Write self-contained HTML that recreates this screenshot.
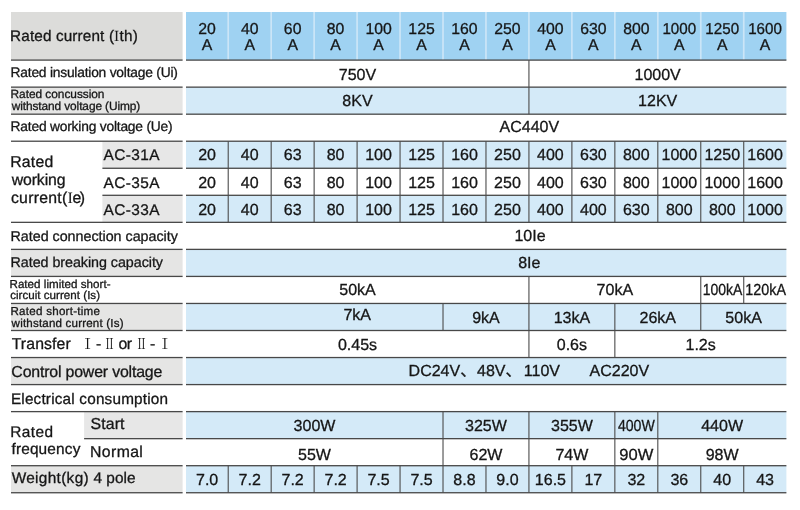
<!DOCTYPE html>
<html lang="en">
<head>
<meta charset="utf-8">
<title>Technical parameters</title>
<style>
html,body{margin:0;padding:0;background:#fff;}
body{width:800px;height:510px;overflow:hidden;}
svg{display:block;}
svg text{font-family:"Liberation Sans","Noto Sans CJK SC",sans-serif;fill:#161616;stroke:#161616;stroke-width:0.3px;text-rendering:geometricPrecision;}
svg text.ro{stroke:none;font-family:"Liberation Serif","Noto Serif CJK SC",serif;}
</style>
</head>
<body>
<svg width="800" height="510" viewBox="0 0 800 510">
<rect x="0" y="0" width="800" height="510" fill="#ffffff"/>
<rect x="11.00" y="12.00" width="171.60" height="48.10" fill="#dcdcda"/>
<rect x="186.00" y="12.00" width="600.40" height="48.10" fill="#9fd2f2"/>
<rect x="11.00" y="87.14" width="171.60" height="27.04" fill="#e5e5e4"/>
<rect x="186.00" y="87.14" width="600.40" height="27.04" fill="#d4eaf8"/>
<rect x="11.00" y="249.38" width="171.60" height="27.04" fill="#e5e5e4"/>
<rect x="186.00" y="249.38" width="600.40" height="27.04" fill="#d4eaf8"/>
<rect x="11.00" y="303.46" width="171.60" height="27.04" fill="#e5e5e4"/>
<rect x="186.00" y="303.46" width="600.40" height="27.04" fill="#d4eaf8"/>
<rect x="11.00" y="357.54" width="171.60" height="27.04" fill="#e5e5e4"/>
<rect x="186.00" y="357.54" width="600.40" height="27.04" fill="#d4eaf8"/>
<rect x="11.00" y="465.70" width="171.60" height="27.04" fill="#e5e5e4"/>
<rect x="186.00" y="465.70" width="600.40" height="27.04" fill="#d4eaf8"/>
<rect x="102.40" y="141.22" width="80.20" height="27.04" fill="#e7e7e7"/>
<rect x="186.00" y="141.22" width="600.40" height="27.04" fill="#d4eaf8"/>
<rect x="102.40" y="195.30" width="80.20" height="27.04" fill="#e7e7e7"/>
<rect x="186.00" y="195.30" width="600.40" height="27.04" fill="#d4eaf8"/>
<rect x="84.10" y="411.62" width="98.50" height="27.04" fill="#e7e7e7"/>
<rect x="186.00" y="411.62" width="600.40" height="27.04" fill="#d4eaf8"/>
<rect x="227.36" y="12.00" width="1.70" height="48.10" fill="#cbe5f7"/>
<rect x="270.32" y="12.00" width="1.70" height="48.10" fill="#cbe5f7"/>
<rect x="313.28" y="12.00" width="1.70" height="48.10" fill="#cbe5f7"/>
<rect x="356.24" y="12.00" width="1.70" height="48.10" fill="#cbe5f7"/>
<rect x="399.20" y="12.00" width="1.70" height="48.10" fill="#cbe5f7"/>
<rect x="442.16" y="12.00" width="1.70" height="48.10" fill="#cbe5f7"/>
<rect x="485.12" y="12.00" width="1.70" height="48.10" fill="#cbe5f7"/>
<rect x="528.08" y="12.00" width="1.70" height="48.10" fill="#cbe5f7"/>
<rect x="571.04" y="12.00" width="1.70" height="48.10" fill="#cbe5f7"/>
<rect x="614.00" y="12.00" width="1.70" height="48.10" fill="#cbe5f7"/>
<rect x="656.96" y="12.00" width="1.70" height="48.10" fill="#cbe5f7"/>
<rect x="699.92" y="12.00" width="1.70" height="48.10" fill="#cbe5f7"/>
<rect x="742.88" y="12.00" width="1.70" height="48.10" fill="#cbe5f7"/>
<rect x="186.00" y="59.45" width="600.40" height="1.30" fill="#484848"/>
<rect x="11.00" y="59.45" width="171.60" height="1.30" fill="#484848"/>
<rect x="186.00" y="86.49" width="600.40" height="1.30" fill="#484848"/>
<rect x="11.00" y="86.49" width="171.60" height="1.30" fill="#484848"/>
<rect x="186.00" y="113.53" width="600.40" height="1.30" fill="#484848"/>
<rect x="11.00" y="113.53" width="171.60" height="1.30" fill="#484848"/>
<rect x="186.00" y="140.57" width="600.40" height="1.30" fill="#484848"/>
<rect x="11.00" y="140.57" width="171.60" height="1.30" fill="#484848"/>
<rect x="186.00" y="167.61" width="600.40" height="1.30" fill="#484848"/>
<rect x="102.40" y="167.61" width="80.20" height="1.30" fill="#484848"/>
<rect x="186.00" y="194.65" width="600.40" height="1.30" fill="#484848"/>
<rect x="102.40" y="194.65" width="80.20" height="1.30" fill="#484848"/>
<rect x="186.00" y="221.69" width="600.40" height="1.30" fill="#484848"/>
<rect x="11.00" y="221.69" width="171.60" height="1.30" fill="#484848"/>
<rect x="186.00" y="248.73" width="600.40" height="1.30" fill="#484848"/>
<rect x="11.00" y="248.73" width="171.60" height="1.30" fill="#484848"/>
<rect x="186.00" y="275.77" width="600.40" height="1.30" fill="#484848"/>
<rect x="11.00" y="275.77" width="171.60" height="1.30" fill="#484848"/>
<rect x="186.00" y="302.81" width="600.40" height="1.30" fill="#484848"/>
<rect x="11.00" y="302.81" width="171.60" height="1.30" fill="#484848"/>
<rect x="186.00" y="329.85" width="600.40" height="1.30" fill="#484848"/>
<rect x="11.00" y="329.85" width="171.60" height="1.30" fill="#484848"/>
<rect x="186.00" y="356.89" width="600.40" height="1.30" fill="#484848"/>
<rect x="11.00" y="356.89" width="171.60" height="1.30" fill="#484848"/>
<rect x="186.00" y="383.93" width="600.40" height="1.30" fill="#484848"/>
<rect x="11.00" y="383.93" width="171.60" height="1.30" fill="#484848"/>
<rect x="186.00" y="410.97" width="600.40" height="1.30" fill="#484848"/>
<rect x="11.00" y="410.97" width="171.60" height="1.30" fill="#484848"/>
<rect x="186.00" y="438.01" width="600.40" height="1.30" fill="#484848"/>
<rect x="84.10" y="438.01" width="98.50" height="1.30" fill="#484848"/>
<rect x="186.00" y="465.05" width="600.40" height="1.30" fill="#484848"/>
<rect x="11.00" y="465.05" width="171.60" height="1.30" fill="#484848"/>
<rect x="186.00" y="492.09" width="600.40" height="1.30" fill="#484848"/>
<rect x="11.00" y="492.09" width="171.60" height="1.30" fill="#484848"/>
<rect x="528.38" y="60.10" width="1.10" height="54.08" fill="#4c4c4c"/>
<rect x="227.66" y="141.22" width="1.10" height="81.12" fill="#4c4c4c"/>
<rect x="270.62" y="141.22" width="1.10" height="81.12" fill="#4c4c4c"/>
<rect x="313.58" y="141.22" width="1.10" height="81.12" fill="#4c4c4c"/>
<rect x="356.54" y="141.22" width="1.10" height="81.12" fill="#4c4c4c"/>
<rect x="399.50" y="141.22" width="1.10" height="81.12" fill="#4c4c4c"/>
<rect x="442.46" y="141.22" width="1.10" height="81.12" fill="#4c4c4c"/>
<rect x="485.42" y="141.22" width="1.10" height="81.12" fill="#4c4c4c"/>
<rect x="528.38" y="141.22" width="1.10" height="81.12" fill="#4c4c4c"/>
<rect x="571.34" y="141.22" width="1.10" height="81.12" fill="#4c4c4c"/>
<rect x="614.30" y="141.22" width="1.10" height="81.12" fill="#4c4c4c"/>
<rect x="657.26" y="141.22" width="1.10" height="81.12" fill="#4c4c4c"/>
<rect x="700.22" y="141.22" width="1.10" height="81.12" fill="#4c4c4c"/>
<rect x="743.18" y="141.22" width="1.10" height="81.12" fill="#4c4c4c"/>
<rect x="528.38" y="276.42" width="1.10" height="27.04" fill="#4c4c4c"/>
<rect x="700.22" y="276.42" width="1.10" height="27.04" fill="#4c4c4c"/>
<rect x="743.18" y="276.42" width="1.10" height="27.04" fill="#4c4c4c"/>
<rect x="442.46" y="303.46" width="1.10" height="27.04" fill="#4c4c4c"/>
<rect x="528.38" y="303.46" width="1.10" height="27.04" fill="#4c4c4c"/>
<rect x="614.30" y="303.46" width="1.10" height="27.04" fill="#4c4c4c"/>
<rect x="700.22" y="303.46" width="1.10" height="27.04" fill="#4c4c4c"/>
<rect x="528.38" y="330.50" width="1.10" height="27.04" fill="#4c4c4c"/>
<rect x="614.30" y="330.50" width="1.10" height="27.04" fill="#4c4c4c"/>
<rect x="442.46" y="411.62" width="1.10" height="54.08" fill="#4c4c4c"/>
<rect x="528.38" y="411.62" width="1.10" height="54.08" fill="#4c4c4c"/>
<rect x="614.30" y="411.62" width="1.10" height="54.08" fill="#4c4c4c"/>
<rect x="657.26" y="411.62" width="1.10" height="54.08" fill="#4c4c4c"/>
<rect x="227.66" y="465.70" width="1.10" height="27.04" fill="#4c4c4c"/>
<rect x="270.62" y="465.70" width="1.10" height="27.04" fill="#4c4c4c"/>
<rect x="313.58" y="465.70" width="1.10" height="27.04" fill="#4c4c4c"/>
<rect x="356.54" y="465.70" width="1.10" height="27.04" fill="#4c4c4c"/>
<rect x="399.50" y="465.70" width="1.10" height="27.04" fill="#4c4c4c"/>
<rect x="442.46" y="465.70" width="1.10" height="27.04" fill="#4c4c4c"/>
<rect x="485.42" y="465.70" width="1.10" height="27.04" fill="#4c4c4c"/>
<rect x="528.38" y="465.70" width="1.10" height="27.04" fill="#4c4c4c"/>
<rect x="571.34" y="465.70" width="1.10" height="27.04" fill="#4c4c4c"/>
<rect x="614.30" y="465.70" width="1.10" height="27.04" fill="#4c4c4c"/>
<rect x="657.26" y="465.70" width="1.10" height="27.04" fill="#4c4c4c"/>
<rect x="700.22" y="465.70" width="1.10" height="27.04" fill="#4c4c4c"/>
<rect x="743.18" y="465.70" width="1.10" height="27.04" fill="#4c4c4c"/>
<text x="207.11" y="33.60" font-size="15.8" text-anchor="middle">20</text>
<text x="207.11" y="50.40" font-size="15.8" text-anchor="middle">A</text>
<text x="249.69" y="33.60" font-size="15.8" text-anchor="middle">40</text>
<text x="249.69" y="50.40" font-size="15.8" text-anchor="middle">A</text>
<text x="292.65" y="33.60" font-size="15.8" text-anchor="middle">60</text>
<text x="292.65" y="50.40" font-size="15.8" text-anchor="middle">A</text>
<text x="335.61" y="33.60" font-size="15.8" text-anchor="middle">80</text>
<text x="335.61" y="50.40" font-size="15.8" text-anchor="middle">A</text>
<text x="378.57" y="33.60" font-size="15.8" text-anchor="middle">100</text>
<text x="378.57" y="50.40" font-size="15.8" text-anchor="middle">A</text>
<text x="421.53" y="33.60" font-size="15.8" text-anchor="middle">125</text>
<text x="421.53" y="50.40" font-size="15.8" text-anchor="middle">A</text>
<text x="464.49" y="33.60" font-size="15.8" text-anchor="middle">160</text>
<text x="464.49" y="50.40" font-size="15.8" text-anchor="middle">A</text>
<text x="507.45" y="33.60" font-size="15.8" text-anchor="middle">250</text>
<text x="507.45" y="50.40" font-size="15.8" text-anchor="middle">A</text>
<text x="550.41" y="33.60" font-size="15.8" text-anchor="middle">400</text>
<text x="550.41" y="50.40" font-size="15.8" text-anchor="middle">A</text>
<text x="593.37" y="33.60" font-size="15.8" text-anchor="middle">630</text>
<text x="593.37" y="50.40" font-size="15.8" text-anchor="middle">A</text>
<text x="636.33" y="33.60" font-size="15.8" text-anchor="middle">800</text>
<text x="636.33" y="50.40" font-size="15.8" text-anchor="middle">A</text>
<text x="679.29" y="33.60" font-size="15.8" text-anchor="middle" textLength="33.8" lengthAdjust="spacingAndGlyphs">1000</text>
<text x="679.29" y="50.40" font-size="15.8" text-anchor="middle">A</text>
<text x="722.25" y="33.60" font-size="15.8" text-anchor="middle" textLength="33.8" lengthAdjust="spacingAndGlyphs">1250</text>
<text x="722.25" y="50.40" font-size="15.8" text-anchor="middle">A</text>
<text x="765.07" y="33.60" font-size="15.8" text-anchor="middle" textLength="33.8" lengthAdjust="spacingAndGlyphs">1600</text>
<text x="765.07" y="50.40" font-size="15.8" text-anchor="middle">A</text>
<text x="10.10" y="41.40" font-size="15.3" letter-spacing="0.129">Rated current</text>
<text x="108.88" y="41.40" font-size="15.3">(</text>
<text x="113.92" y="41.40" font-size="15.5" class="ro">I</text>
<text x="119.60" y="41.40" font-size="15.3" letter-spacing="0.218">th)</text>
<text x="10.57" y="77.00" font-size="13.8" letter-spacing="-0.215">Rated insulation voltage (Ui)</text>
<text x="10.57" y="98.30" font-size="11.9" letter-spacing="-0.040">Rated concussion</text>
<text x="11.69" y="109.60" font-size="11.9" letter-spacing="-0.097">withstand voltage (Uimp)</text>
<text x="10.57" y="130.80" font-size="13.8" letter-spacing="-0.203">Rated working voltage (Ue)</text>
<text x="10.22" y="167.00" font-size="15.8" letter-spacing="0.227">Rated</text>
<text x="11.70" y="185.10" font-size="15.8" letter-spacing="-0.092">working</text>
<text x="10.96" y="203.00" font-size="15.8" letter-spacing="0.269">current(</text>
<text x="67.50" y="203.00" font-size="16" class="ro">I</text>
<text x="72.51" y="203.00" font-size="15.8" letter-spacing="-1.437">e)</text>
<text x="103.50" y="159.70" font-size="15.4" letter-spacing="0.420">AC-31A</text>
<text x="103.50" y="187.70" font-size="15.4" letter-spacing="0.420">AC-35A</text>
<text x="103.50" y="214.70" font-size="15.4" letter-spacing="0.420">AC-33A</text>
<text x="10.53" y="240.70" font-size="14.3" letter-spacing="-0.015">Rated connection capacity</text>
<text x="10.53" y="267.30" font-size="14.3" letter-spacing="-0.043">Rated breaking capacity</text>
<text x="9.49" y="288.30" font-size="11.6" letter-spacing="0.029">Rated limited short-</text>
<text x="10.14" y="299.00" font-size="11.6" letter-spacing="0.020">circuit current (Is)</text>
<text x="10.49" y="315.20" font-size="11.6" letter-spacing="0.249">Rated short-time</text>
<text x="11.58" y="326.70" font-size="11.6" letter-spacing="0.177">withstand current (Is)</text>
<text x="11.65" y="349.00" font-size="15.8" letter-spacing="0.126">Transfer</text>
<text x="80.21" y="349.00" font-size="14.7" class="ro">Ⅰ</text>
<text x="95.91" y="349.00" font-size="15.8">-</text>
<text x="103.84" y="349.00" font-size="14.7" textLength="11.52" lengthAdjust="spacingAndGlyphs" class="ro">Ⅱ</text>
<text x="118.51" y="349.00" font-size="15.8" letter-spacing="-0.478">or</text>
<text x="135.84" y="349.00" font-size="14.7" textLength="11.52" lengthAdjust="spacingAndGlyphs" class="ro">Ⅱ</text>
<text x="149.91" y="349.00" font-size="15.8">-</text>
<text x="157.61" y="349.00" font-size="14.7" class="ro">Ⅰ</text>
<text x="11.35" y="376.80" font-size="15.9" letter-spacing="-0.179">Control power voltage</text>
<text x="10.90" y="403.70" font-size="15.3" letter-spacing="0.195">Electrical consumption</text>
<text x="10.25" y="436.50" font-size="15.4" letter-spacing="0.431">Rated</text>
<text x="11.45" y="454.40" font-size="15.4" letter-spacing="0.165">frequency</text>
<text x="90.50" y="428.80" font-size="15.9" letter-spacing="0.116">Start</text>
<text x="90.07" y="457.40" font-size="15.8" letter-spacing="0.372">Normal</text>
<text x="11.65" y="483.30" font-size="15.4" letter-spacing="0.319">Weight(kg)</text>
<text x="93.46" y="483.30" font-size="15.4" letter-spacing="0.021">4 pole</text>
<text x="357.47" y="79.70" font-size="16" text-anchor="middle">750V</text>
<text x="657.66" y="79.70" font-size="16" text-anchor="middle">1000V</text>
<text x="357.47" y="106.00" font-size="16" text-anchor="middle">8KV</text>
<text x="657.66" y="106.00" font-size="16" text-anchor="middle">12KV</text>
<text x="529.30" y="131.70" font-size="16" text-anchor="middle">AC440V</text>
<text x="207.11" y="160.10" font-size="16" text-anchor="middle">20</text>
<text x="207.11" y="187.70" font-size="16" text-anchor="middle">20</text>
<text x="207.11" y="214.60" font-size="16" text-anchor="middle">20</text>
<text x="249.69" y="160.10" font-size="16" text-anchor="middle">40</text>
<text x="249.69" y="187.70" font-size="16" text-anchor="middle">40</text>
<text x="249.69" y="214.60" font-size="16" text-anchor="middle">40</text>
<text x="292.65" y="160.10" font-size="16" text-anchor="middle">63</text>
<text x="292.65" y="187.70" font-size="16" text-anchor="middle">63</text>
<text x="292.65" y="214.60" font-size="16" text-anchor="middle">63</text>
<text x="335.61" y="160.10" font-size="16" text-anchor="middle">80</text>
<text x="335.61" y="187.70" font-size="16" text-anchor="middle">80</text>
<text x="335.61" y="214.60" font-size="16" text-anchor="middle">80</text>
<text x="378.57" y="160.10" font-size="16" text-anchor="middle">100</text>
<text x="378.57" y="187.70" font-size="16" text-anchor="middle">100</text>
<text x="378.57" y="214.60" font-size="16" text-anchor="middle">100</text>
<text x="421.53" y="160.10" font-size="16" text-anchor="middle">125</text>
<text x="421.53" y="187.70" font-size="16" text-anchor="middle">125</text>
<text x="421.53" y="214.60" font-size="16" text-anchor="middle">125</text>
<text x="464.49" y="160.10" font-size="16" text-anchor="middle">160</text>
<text x="464.49" y="187.70" font-size="16" text-anchor="middle">160</text>
<text x="464.49" y="214.60" font-size="16" text-anchor="middle">160</text>
<text x="507.45" y="160.10" font-size="16" text-anchor="middle">250</text>
<text x="507.45" y="187.70" font-size="16" text-anchor="middle">250</text>
<text x="507.45" y="214.60" font-size="16" text-anchor="middle">250</text>
<text x="550.41" y="160.10" font-size="16" text-anchor="middle">400</text>
<text x="550.41" y="187.70" font-size="16" text-anchor="middle">400</text>
<text x="550.41" y="214.60" font-size="16" text-anchor="middle">400</text>
<text x="593.37" y="160.10" font-size="16" text-anchor="middle">630</text>
<text x="593.37" y="187.70" font-size="16" text-anchor="middle">630</text>
<text x="593.37" y="214.60" font-size="16" text-anchor="middle">400</text>
<text x="636.33" y="160.10" font-size="16" text-anchor="middle">800</text>
<text x="636.33" y="187.70" font-size="16" text-anchor="middle">800</text>
<text x="636.33" y="214.60" font-size="16" text-anchor="middle">630</text>
<text x="679.29" y="160.10" font-size="16" text-anchor="middle">1000</text>
<text x="679.29" y="187.70" font-size="16" text-anchor="middle">1000</text>
<text x="679.29" y="214.60" font-size="16" text-anchor="middle">800</text>
<text x="722.25" y="160.10" font-size="16" text-anchor="middle">1250</text>
<text x="722.25" y="187.70" font-size="16" text-anchor="middle">1000</text>
<text x="722.25" y="214.60" font-size="16" text-anchor="middle">800</text>
<text x="765.07" y="160.10" font-size="16" text-anchor="middle">1600</text>
<text x="765.07" y="187.70" font-size="16" text-anchor="middle">1600</text>
<text x="765.07" y="214.60" font-size="16" text-anchor="middle">1000</text>
<text x="530.00" y="240.70" font-size="16" text-anchor="middle">10Ie</text>
<text x="529.30" y="268.10" font-size="16" text-anchor="middle">8Ie</text>
<text x="357.47" y="295.30" font-size="16" text-anchor="middle">50kA</text>
<text x="614.85" y="295.30" font-size="16" text-anchor="middle">70kA</text>
<text x="722.55" y="295.30" font-size="16" text-anchor="middle" textLength="39.6" lengthAdjust="spacingAndGlyphs">100kA</text>
<text x="765.67" y="295.30" font-size="16" text-anchor="middle" textLength="40.6" lengthAdjust="spacingAndGlyphs">120kA</text>
<text x="357.20" y="320.30" font-size="16" text-anchor="middle">7kA</text>
<text x="485.97" y="322.90" font-size="16" text-anchor="middle">9kA</text>
<text x="571.89" y="322.90" font-size="16" text-anchor="middle">13kA</text>
<text x="657.81" y="322.90" font-size="16" text-anchor="middle">26kA</text>
<text x="743.59" y="322.90" font-size="16" text-anchor="middle">50kA</text>
<text x="357.47" y="349.60" font-size="16" text-anchor="middle">0.45s</text>
<text x="571.89" y="349.60" font-size="16" text-anchor="middle">0.6s</text>
<text x="700.62" y="349.60" font-size="16" text-anchor="middle">1.2s</text>
<text y="375.9" font-size="16"><tspan x="408.6">DC24V、</tspan><tspan x="477.0">48V、</tspan><tspan x="523.8">110V</tspan><tspan x="589.5">AC220V</tspan></text>
<text x="314.50" y="431.20" font-size="16" text-anchor="middle">300W</text>
<text x="485.97" y="431.20" font-size="16" text-anchor="middle">325W</text>
<text x="571.89" y="431.20" font-size="16" text-anchor="middle">355W</text>
<text x="636.33" y="431.20" font-size="16" text-anchor="middle" textLength="36.8" lengthAdjust="spacingAndGlyphs">400W</text>
<text x="722.11" y="431.20" font-size="16" text-anchor="middle">440W</text>
<text x="314.50" y="460.00" font-size="16" text-anchor="middle">55W</text>
<text x="485.97" y="460.00" font-size="16" text-anchor="middle">62W</text>
<text x="571.89" y="460.00" font-size="16" text-anchor="middle">74W</text>
<text x="636.33" y="460.00" font-size="16" text-anchor="middle" textLength="34.0" lengthAdjust="spacingAndGlyphs">90W</text>
<text x="722.11" y="460.00" font-size="16" text-anchor="middle">98W</text>
<text x="207.11" y="485.00" font-size="16" text-anchor="middle">7.0</text>
<text x="249.69" y="485.00" font-size="16" text-anchor="middle">7.2</text>
<text x="292.65" y="485.00" font-size="16" text-anchor="middle">7.2</text>
<text x="335.61" y="485.00" font-size="16" text-anchor="middle">7.2</text>
<text x="378.57" y="485.00" font-size="16" text-anchor="middle">7.5</text>
<text x="421.53" y="485.00" font-size="16" text-anchor="middle">7.5</text>
<text x="464.49" y="485.00" font-size="16" text-anchor="middle">8.8</text>
<text x="507.45" y="485.00" font-size="16" text-anchor="middle">9.0</text>
<text x="550.41" y="485.00" font-size="16" text-anchor="middle">16.5</text>
<text x="593.37" y="485.00" font-size="16" text-anchor="middle">17</text>
<text x="636.33" y="485.00" font-size="16" text-anchor="middle">32</text>
<text x="679.29" y="485.00" font-size="16" text-anchor="middle">36</text>
<text x="722.25" y="485.00" font-size="16" text-anchor="middle">40</text>
<text x="765.07" y="485.00" font-size="16" text-anchor="middle">43</text>
</svg>
</body>
</html>
